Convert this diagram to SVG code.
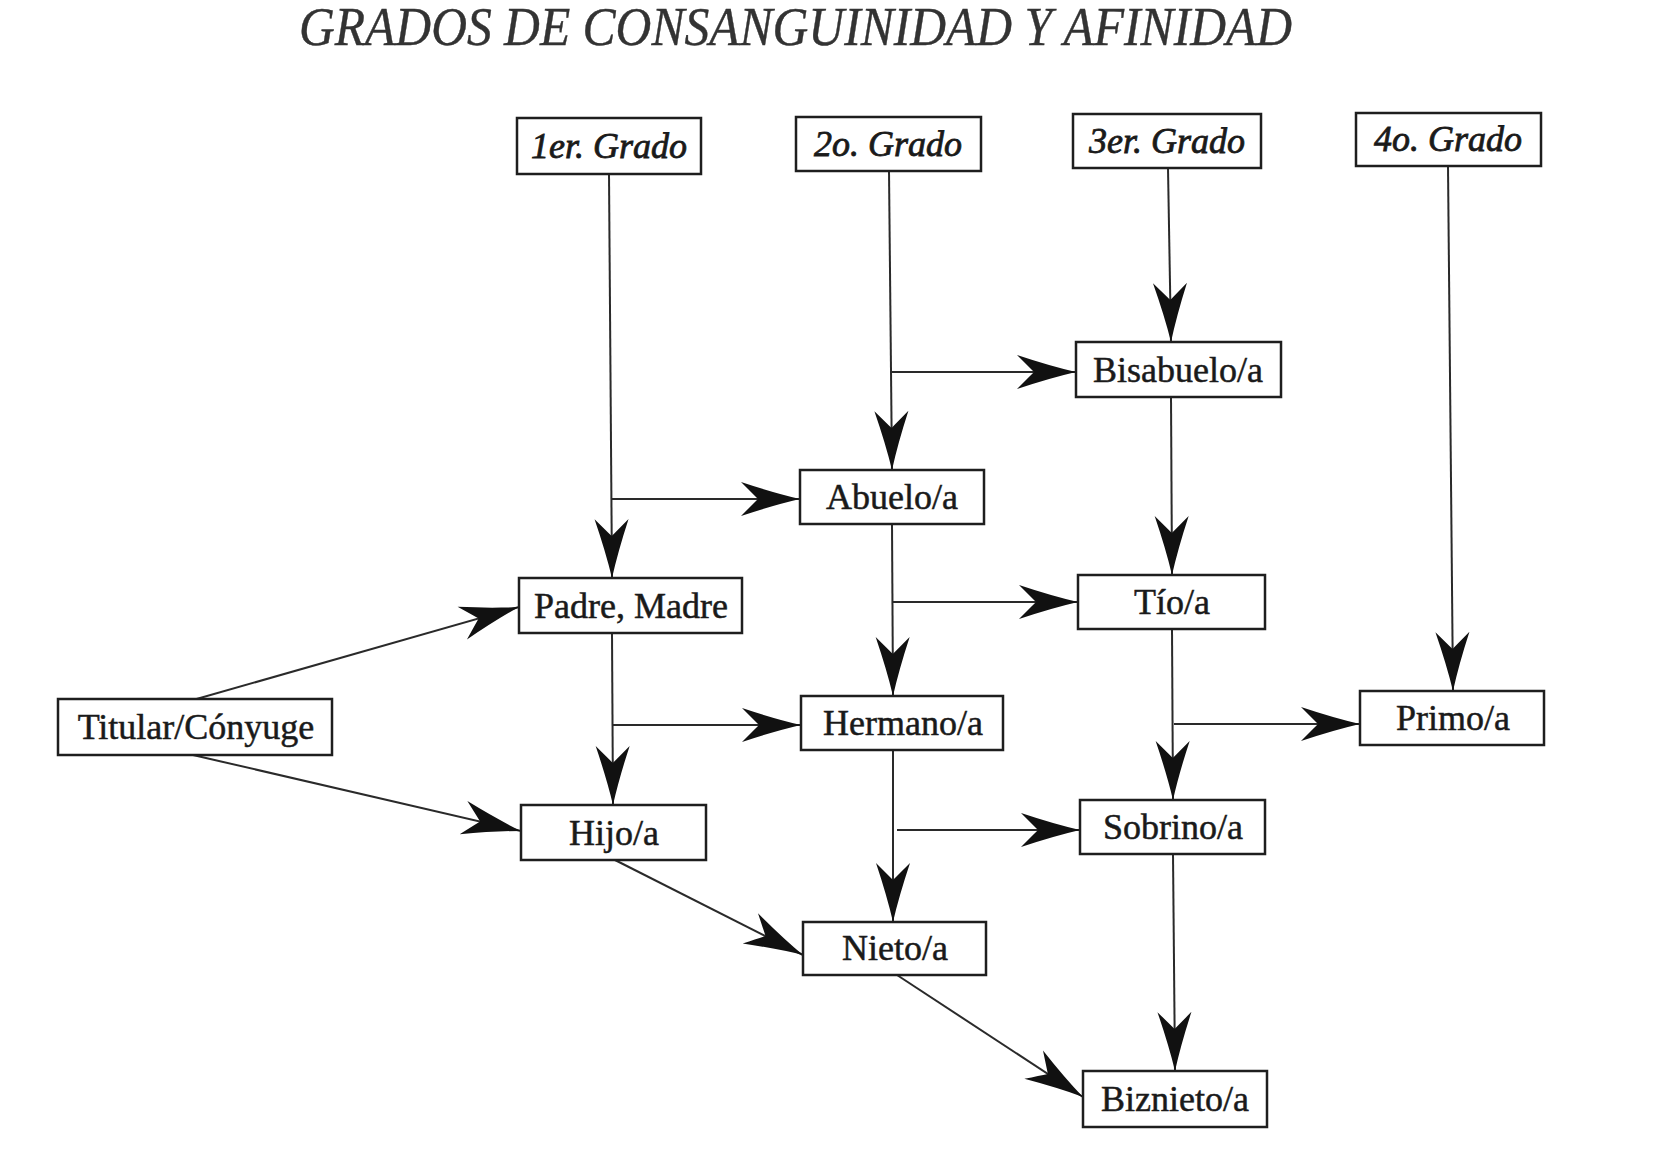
<svg xmlns="http://www.w3.org/2000/svg" width="1654" height="1151" viewBox="0 0 1654 1151">
<style>
.box{fill:#fff;stroke:#1e1e1e;stroke-width:2.5}
.lbl{font-family:"Liberation Serif","Times New Roman",serif;font-size:36px;fill:#1a1a1a;stroke:#1a1a1a;stroke-width:0.5;text-anchor:middle}
.hdr{font-style:italic;stroke-width:0.8}
.edge{stroke:#2a2a2a;stroke-width:2;fill:none;marker-end:url(#arr)}
.title{font-family:"Liberation Serif","Times New Roman",serif;font-style:italic;font-size:54px;fill:#333;stroke:#333;stroke-width:0.4}
</style>
<defs>
<marker id="arr" markerUnits="userSpaceOnUse" markerWidth="64" markerHeight="36" refX="60" refY="17" orient="auto" overflow="visible">
<path d="M60,17 Q34,11 1,0 Q12,11 18,17 Q12,23 1,34 Q34,23 60,17 Z" fill="#111"/>
</marker>
</defs>
<rect width="1654" height="1151" fill="#fff"/>
<text class="title" x="299" y="45" textLength="993" lengthAdjust="spacingAndGlyphs">GRADOS DE CONSANGUINIDAD Y AFINIDAD</text>

<g id="connectors">
<path class="edge" d="M609,174 L612,578"/>
<path class="edge" d="M612,499 L800,499"/>
<path class="edge" d="M889,171 L892,470"/>
<path class="edge" d="M892,372 L1076,372"/>
<path class="edge" d="M1168,168 L1171,342"/>
<path class="edge" d="M1448,166 L1453,691"/>
<path class="edge" d="M1171,397 L1172,575"/>
<path class="edge" d="M892,524 L893,696"/>
<path class="edge" d="M893,602 L1078,602"/>
<path class="edge" d="M612,633 L613,805"/>
<path class="edge" d="M613,725 L801,725"/>
<path class="edge" d="M1172,629 L1173,800"/>
<path class="edge" d="M1174,724 L1360,724"/>
<path class="edge" d="M893,750 L893,922"/>
<path class="edge" d="M897,830 L1080,830"/>
<path class="edge" d="M1173,854 L1175,1071"/>
<path class="edge" d="M193,700 L519,607"/>
<path class="edge" d="M193,755 L521,831"/>
<path class="edge" d="M615,860 L803,955"/>
<path class="edge" d="M897,975 L1083,1097"/>
</g>

<g id="g1"><rect class="box" x="517" y="118" width="184" height="56"/><text class="lbl hdr" x="609" y="158">1er. Grado</text></g>
<g id="g2"><rect class="box" x="796" y="117" width="185" height="54"/><text class="lbl hdr" x="888" y="156">2o. Grado</text></g>
<g id="g3"><rect class="box" x="1073" y="114" width="188" height="54"/><text class="lbl hdr" x="1167" y="153">3er. Grado</text></g>
<g id="g4"><rect class="box" x="1356" y="113" width="185" height="53"/><text class="lbl hdr" x="1448" y="151">4o. Grado</text></g>
<g id="bisabuelo"><rect class="box" x="1076" y="342" width="205" height="55"/><text class="lbl" x="1178" y="382">Bisabuelo/a</text></g>
<g id="abuelo"><rect class="box" x="800" y="470" width="184" height="54"/><text class="lbl" x="892" y="509">Abuelo/a</text></g>
<g id="padre"><rect class="box" x="519" y="578" width="223" height="55"/><text class="lbl" x="631" y="618">Padre, Madre</text></g>
<g id="tio"><rect class="box" x="1078" y="575" width="187" height="54"/><text class="lbl" x="1172" y="614">Tío/a</text></g>
<g id="titular"><rect class="box" x="58" y="699" width="274" height="56"/><text class="lbl" x="196" y="739">Titular/Cónyuge</text></g>
<g id="hermano"><rect class="box" x="801" y="696" width="202" height="54"/><text class="lbl" x="903" y="735">Hermano/a</text></g>
<g id="primo"><rect class="box" x="1360" y="691" width="184" height="54"/><text class="lbl" x="1453" y="730">Primo/a</text></g>
<g id="hijo"><rect class="box" x="521" y="805" width="185" height="55"/><text class="lbl" x="614" y="845">Hijo/a</text></g>
<g id="sobrino"><rect class="box" x="1080" y="800" width="185" height="54"/><text class="lbl" x="1173" y="839">Sobrino/a</text></g>
<g id="nieto"><rect class="box" x="803" y="922" width="183" height="53"/><text class="lbl" x="895" y="960">Nieto/a</text></g>
<g id="biznieto"><rect class="box" x="1083" y="1071" width="184" height="56"/><text class="lbl" x="1175" y="1111">Biznieto/a</text></g>
</svg>
